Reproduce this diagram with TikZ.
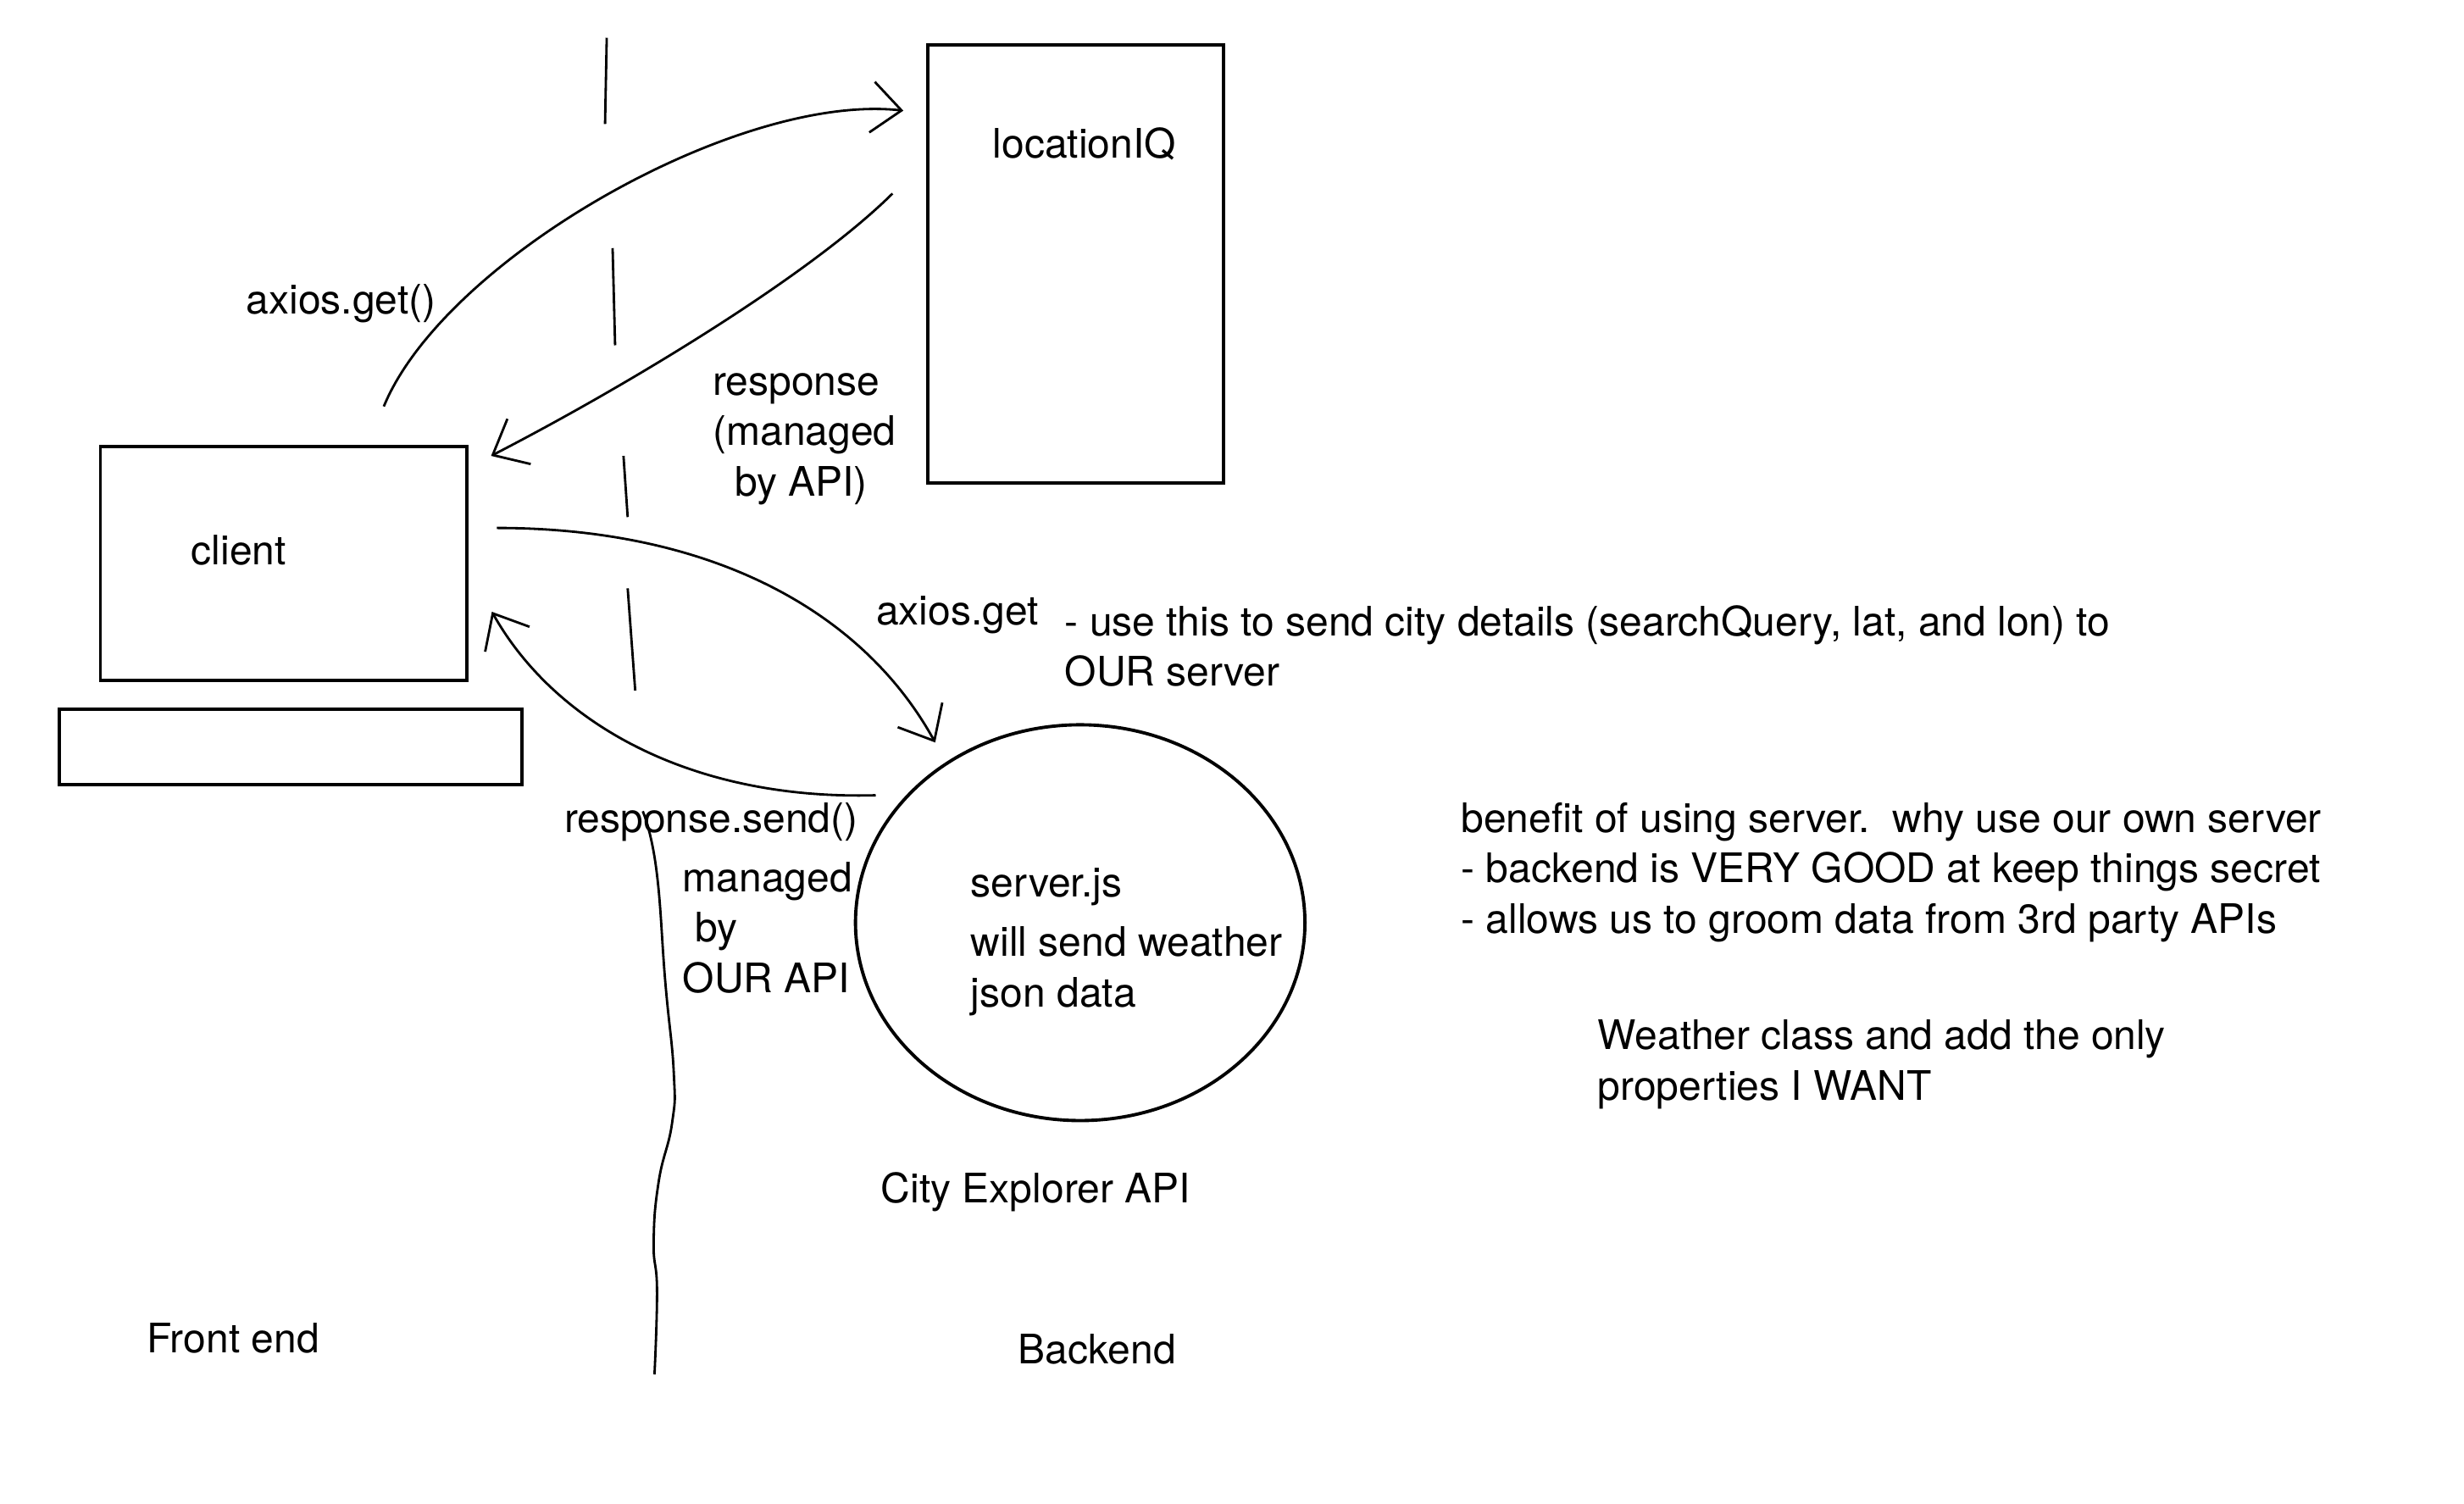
\documentclass[tikz,border=0pt]{standalone}
\usepackage{fontspec}
\setmainfont{TeX Gyre Heros}
\usetikzlibrary{shapes.geometric,arrows.meta}
\begin{document}
\begin{tikzpicture}[x=0.01cm, y=-0.01cm, scale=0.989, transform shape,
        box/.style={draw, rectangle, line width=1.1pt, inner sep=0pt},
        note/.style={align=left, inner sep=0pt, font=\fontsize{13.8}{17.1}\selectfont},
        link/.style={-{Straight Barb[length=3.5mm, width=6mm]}, line width=0.8pt},
        divider/.style={line width=0.8pt}]
        \useasboundingbox (0,0) rectangle (2940.3,1793.7);
        \fill[white] (0,0) rectangle (2940.3,1793.7);

        % boxes
        \node[box, minimum width=3.53cm, minimum height=5.22cm] (liq) at (1283.5,315) {};
        \node[note] (liqlabel) at (1294,172) {locationIQ};
        \node[box, minimum width=4.37cm, minimum height=2.79cm] (client) at (338.5,672.5) {};
        \node[note] (clientlabel) at (285,657) {client};
        \node[box, minimum width=5.52cm, minimum height=0.9cm] (keyboard) at (347,891) {};
        \node[draw, ellipse, line width=1.1pt, minimum width=5.36cm, minimum height=4.72cm] (server) at (1289,1101) {};
        \node[note, anchor=west] (serverlabel) at (1158,1124) {server.js\\[0.11cm]will send weather\\json data};
        \node[note] (apilabel) at (1236,1422) {City Explorer API};

        % front end / backend split
        \draw[divider] (724,45) -- (722,148);
        \draw[divider] (731,296) -- (734,412);
        \draw[divider] (744,544) -- (749,617);
        \draw[divider] (749,702) -- (758,824);
        \draw[divider] plot[smooth, tension=0.8] coordinates {(767,968) (783,1036) (794,1173) (804,1280) (802,1340) (786,1410) (780,1483) (784,1540) (781,1640)};
        \node[note] (front) at (278,1597) {Front end};
        \node[note] (back) at (1309,1610) {Backend};

        % requests and responses
        \coordinate (getstart) at (458,485);
        \coordinate (getend) at (1078,132);
        \coordinate (resstart) at (1065,231);
        \coordinate (resend) at (586,544);
        \coordinate (ourstart) at (593,630);
        \coordinate (ourend) at (1116,886);
        \coordinate (sendstart) at (1045,949);
        \coordinate (sendend) at (587,730);

        \draw[link] (getstart) .. controls (530,310) and (880,110) .. (getend);
        \draw[link] (resstart) .. controls (965,330) and (745,462) .. (resend);
        \draw[link] (ourstart) .. controls (850,630) and (1030,730) .. (ourend);
        \draw[link] (sendstart) .. controls (820,955) and (660,860) .. (sendend);

        \node[note] (getlabel) at (407,362) {axios.get()};
        \node[note, anchor=west] (reslabel) at (850,524) {response\\(managed\\\hspace*{0.26cm}by API)};
        \node[note, anchor=west] (ourlabel) at (1045,734) {axios.get};
        \node[note, anchor=west] (ournote) at (1270,771) {- use this to send city details (searchQuery, lat, and lon) to\\OUR server};
        \node[note, anchor=west] (sendlabel) at (673,981) {response.send()};
        \node[note, anchor=west] (sendnote) at (814,1107) {managed\\\hspace*{0.15cm}by\\OUR API};

        % notes
        \node[note, anchor=west] (benefit) at (1743,1041) {benefit of using server.\ \ why use our own server\\- backend is VERY GOOD at keep things secret\\- allows us to groom data from 3rd party APIs};
        \node[note, anchor=west] (weather) at (1906,1270) {Weather class and add the only\\properties I WANT};
    \end{tikzpicture}
\end{document}
